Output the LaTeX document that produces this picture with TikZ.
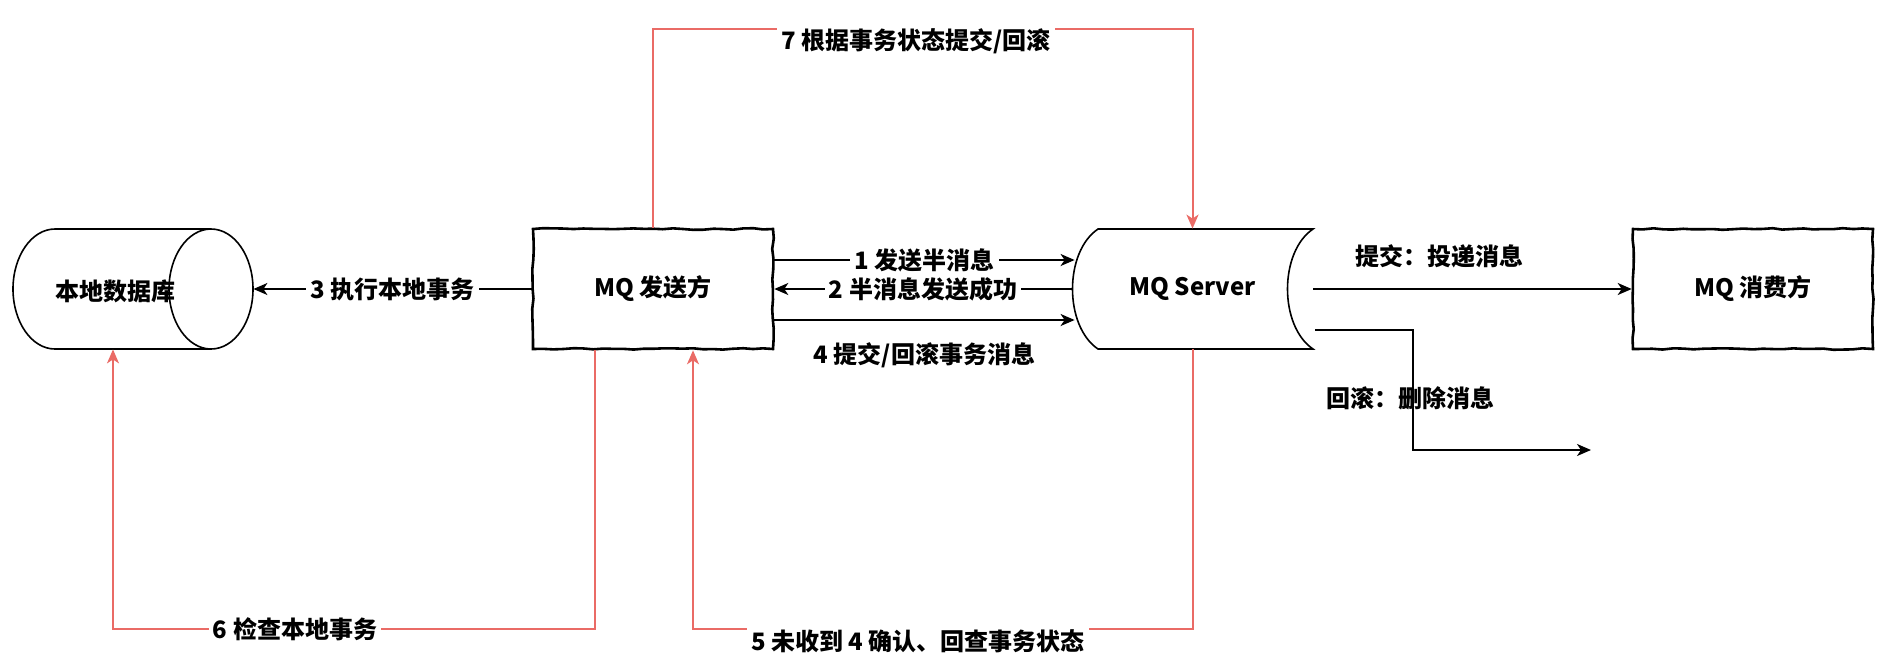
\documentclass[tikz,border=0pt]{standalone}
\usepackage{fontspec}
\setmainfont{Noto Sans CJK SC}
\usetikzlibrary{arrows.meta,decorations.pathmorphing,calc}
\definecolor{redline}{RGB}{234,107,102}
\begin{document}
\begin{tikzpicture}[x=0.5pt,y=-0.5pt,
  font=\fontsize{12pt}{14pt}\selectfont\bfseries,
  box/.style={draw, line width=1.3pt, fill=white, minimum width=120pt, minimum height=60pt, inner sep=0pt,
    decorate, decoration={random steps, segment length=5pt, amplitude=0.4pt}},
  holder/.style={minimum width=#1, minimum height=60pt, inner sep=0pt},
  shapeline/.style={draw, line width=0.8pt, fill=white},
  arr/.style={line width=0.9pt, -{Stealth[length=7pt,width=6pt,inset=2pt]}},
  redarr/.style={line width=1pt, draw=redline, -{Stealth[length=7pt,width=6pt,inset=2pt]}},
  lbl/.style={fill=white, inner sep=2pt}
]
\pgfmathsetseed{7}
\useasboundingbox (0,0) rectangle (1896,660);

% helper coordinates
\coordinate (top7) at (0,29);
\coordinate (bot) at (0,629);

% local database (horizontal cylinder)
\node[holder=120pt] (db) at (133,289) {};
\draw[shapeline] (55,229) -- (211,229)
  arc[start angle=90, end angle=-90, x radius=21pt, y radius=30pt]
  -- (55,349)
  arc[start angle=270, end angle=90, x radius=21pt, y radius=30pt] -- cycle;
\draw[line width=0.8pt] (211,229) arc[start angle=90, end angle=270, x radius=21pt, y radius=30pt];
\node (dbt) at (115,291) {本地数据库};

% MQ producer
\node[box] (snd) at (653,289) {MQ 发送方};

% MQ Server (stored data shape)
\draw[shapeline] (1098,229) -- (1313,229)
  .. controls (1279,252) and (1279,326) .. (1313,349)
  -- (1098,349)
  .. controls (1064,326) and (1064,252) .. cycle;
\node[holder=120.5pt] (srv) at (1192.5,289) {MQ Server};

% MQ consumer
\node[box] (cons) at (1753,289) {MQ 消费方};

% 3
\draw[arr] (snd.west) -- (db.east) node[lbl, midway] (l3) {3 执行本地事务};

% 1, 2, 4
\draw[arr] ($(snd.east)+(0,-29)$) -- ($(srv.west)+(3,-29)$) node[lbl, midway] (l1) {1 发送半消息};
\draw[arr] (srv.west) -- (snd.east) node[lbl, midway] (l2) {2 半消息发送成功};
\draw[arr] ($(snd.east)+(0,31)$) -- ($(srv.west)+(3,31)$) node[midway, yshift=-17.5pt] (l4) {4 提交/回滚事务消息};

% commit / rollback
\draw[arr] (srv.east) -- (cons.west);
\node (ltj) at (1439,256) {提交：投递消息};
\coordinate (rbEnd) at (1591,450);
\draw[arr] ($(srv.east)+(2,41)$) -| ($(rbEnd)+(-178,0)$) -- (rbEnd);
\node (lhg) at (1410,398) {回滚：删除消息};

% 7
\draw[redarr] (snd.north) -- (snd.north |- top7) -- (srv.north |- top7) -- (srv.north);
\node[lbl] (l7) at (916,41) {7 根据事务状态提交/回滚};

% 6
\coordinate (s6) at ($(snd.south)+(-58,0)$);
\coordinate (e6) at ($(db.south)+(-20,0)$);
\draw[redarr] (s6) -- (s6 |- bot) -- (e6 |- bot) -- (e6);
\node[lbl] (l6) at (295,629) {6 检查本地事务};

% 5
\coordinate (e5) at ($(snd.south)+(40,0)$);
\draw[redarr] (srv.south) -- (srv.south |- bot) -- (e5 |- bot) -- (e5);
\node[lbl] (l5) at (918,641) {5 未收到 4 确认、回查事务状态};
\end{tikzpicture}
\end{document}
